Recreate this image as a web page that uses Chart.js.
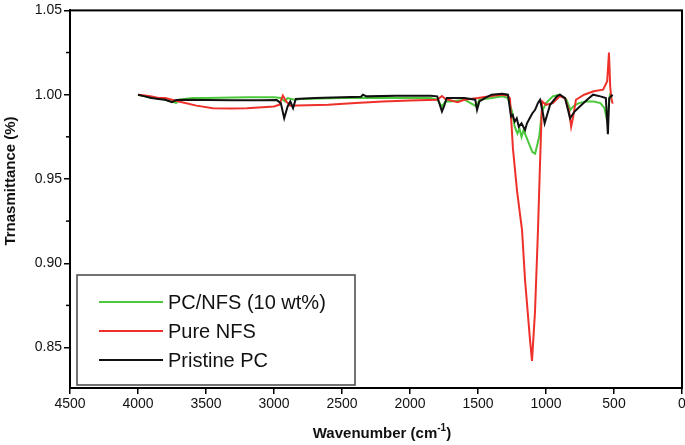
<!DOCTYPE html>
<html>
<head>
<meta charset="utf-8">
<script src="https://cdn.jsdelivr.net/npm/chart.js@4.4.1/dist/chart.umd.min.js"></script>
<style>
  html, body { margin: 0; padding: 0; background: #fff; }
  #ftir { display: block; }
</style>
</head>
<body>
<canvas id="ftir" width="685" height="445"></canvas>
<script>
// Series labels + colours
const seriesLabels = ['PC/NFS (10 wt%)', 'Pure NFS', 'Pristine PC'];
const seriesColors = ['#4cc83c', '#ee2f2a', '#111111'];

// PC/NFS (10 wt%) - green
const compWave = [4000, 3950, 3900, 3850, 3800, 3750, 3720, 3700, 3600, 3500, 3400, 3200, 3000, 2950, 2920, 2900, 2850, 2800, 2500, 2350, 2200, 2000, 1850, 1800, 1765, 1740, 1700, 1600, 1510, 1490, 1400, 1320, 1280, 1250, 1230, 1210, 1195, 1180, 1165, 1150, 1120, 1100, 1080, 1050, 1030, 1000, 950, 900, 850, 820, 800, 760, 700, 650, 600, 570, 555, 540, 530, 510];
const compT    = [1.000, 0.999, 0.998, 0.998, 0.997, 0.996, 0.995, 0.997, 0.998, 0.998, 0.9982, 0.9985, 0.9985, 0.998, 0.996, 0.998, 0.997, 0.9975, 0.998, 0.9982, 0.998, 0.998, 0.998, 0.997, 0.993, 0.996, 0.996, 0.997, 0.993, 0.997, 0.998, 0.999, 0.998, 0.990, 0.981, 0.977, 0.980, 0.975, 0.979, 0.976, 0.970, 0.966, 0.965, 0.975, 0.990, 0.995, 0.999, 1.000, 0.997, 0.991, 0.993, 0.995, 0.996, 0.996, 0.995, 0.992, 0.986, 0.992, 1.000, 0.999];

// Pure NFS - red
const nfsWave = [4000, 3950, 3900, 3850, 3800, 3750, 3700, 3570, 3450, 3320, 3200, 3000, 2960, 2935, 2910, 2880, 2830, 2600, 2400, 2200, 2000, 1800, 1765, 1740, 1650, 1600, 1500, 1400, 1330, 1280, 1265, 1243, 1213, 1176, 1154, 1118, 1103, 1081, 1059, 1044, 1029, 1000, 950, 900, 860, 830, 815, 800, 780, 720, 650, 580, 550, 537, 528, 520, 510];
const nfsT    = [1.000, 0.9995, 0.999, 0.998, 0.998, 0.997, 0.996, 0.9935, 0.992, 0.9918, 0.992, 0.993, 0.994, 0.9995, 0.996, 0.9935, 0.9936, 0.994, 0.995, 0.996, 0.9965, 0.997, 0.9992, 0.9975, 0.9955, 0.997, 0.998, 0.9992, 1.000, 0.9995, 0.9977, 0.968, 0.943, 0.9195, 0.890, 0.855, 0.842, 0.871, 0.9195, 0.959, 0.996, 0.994, 0.995, 0.999, 0.998, 0.990, 0.981, 0.987, 0.997, 1.000, 1.002, 1.003, 1.008, 1.025, 1.005, 0.998, 0.9947];

// Pristine PC - black
const pcWave = [4000, 3950, 3900, 3850, 3800, 3750, 3720, 3650, 3500, 3300, 3100, 2980, 2950, 2925, 2900, 2880, 2860, 2840, 2700, 2500, 2360, 2346, 2320, 2100, 1850, 1800, 1765, 1750, 1730, 1600, 1520, 1507, 1490, 1450, 1400, 1323, 1280, 1257, 1245, 1230, 1215, 1200, 1180, 1154, 1140, 1120, 1100, 1080, 1060, 1044, 1025, 1010, 970, 920, 897, 860, 823, 790, 765, 698, 654, 600, 560, 545, 535, 510];
const pcT    = [1.000, 0.999, 0.998, 0.9975, 0.997, 0.9955, 0.9968, 0.997, 0.9968, 0.9967, 0.9967, 0.9968, 0.995, 0.986, 0.993, 0.996, 0.992, 0.9975, 0.998, 0.9985, 0.9988, 1.000, 0.999, 0.9994, 0.9994, 0.999, 0.990, 0.993, 0.998, 0.998, 0.997, 0.991, 0.996, 0.998, 1.000, 1.0006, 1.000, 0.987, 0.988, 0.984, 0.986, 0.981, 0.983, 0.979, 0.983, 0.986, 0.989, 0.991, 0.995, 0.997, 0.990, 0.983, 0.994, 0.999, 1.000, 0.998, 0.986, 0.990, 0.992, 0.997, 1.000, 0.999, 0.998, 0.9765, 0.998, 1.000];

// axis ticks
const xTicks = [4500, 4000, 3500, 3000, 2500, 2000, 1500, 1000, 500, 0];
const yTicks = [0.85, 0.90, 0.95, 1.00, 1.05];
const yMinorTicks = [0.875, 0.925, 0.975, 1.025];

const toPoints = (w, t) => w.map((v, i) => ({ x: v, y: t[i] }));

// Frame, minor ticks, axis titles and boxed legend
const frameLegend = {
    id: 'frameLegend',
    afterDraw(chart) {
        const { ctx, chartArea: a, scales } = chart;
        ctx.save();
        // box around plot
        ctx.strokeStyle = '#000';
        ctx.lineWidth = 2;
        ctx.strokeRect(a.left, a.top, a.right - a.left, a.bottom - a.top);

        // minor y ticks
        ctx.lineWidth = 1.5;
        yMinorTicks.forEach(v => {
            const y = scales.y.getPixelForValue(v);
            ctx.beginPath();
            ctx.moveTo(a.left - 4, y);
            ctx.lineTo(a.left, y);
            ctx.stroke();
        });

        // axis titles
        ctx.fillStyle = '#111';
        ctx.font = 'bold 15px "Liberation Sans", Arial, sans-serif';
        ctx.textBaseline = 'middle';
        const xt = 'Wavenumber (cm';
        const cx = (a.left + a.right) / 2 + 6;
        const wMain = ctx.measureText(xt).width;
        const wSup = 9;
        const wEnd = ctx.measureText(')').width;
        const total = wMain + wSup + wEnd;
        let sx = cx - total / 2;
        ctx.textAlign = 'left';
        ctx.fillText(xt, sx, 434);
        ctx.font = 'bold 10px "Liberation Sans", Arial, sans-serif';
        ctx.fillText('-1', sx + wMain, 428);
        ctx.font = 'bold 15px "Liberation Sans", Arial, sans-serif';
        ctx.fillText(')', sx + wMain + wSup, 434);

        ctx.save();
        ctx.translate(11, 181);
        ctx.rotate(-Math.PI / 2);
        ctx.textAlign = 'center';
        ctx.fillText('Trnasmittance (%)', 0, 0);
        ctx.restore();

        // legend box
        const lx = 77, ly = 275, lw = 278, lh = 110;
        ctx.strokeStyle = '#444';
        ctx.lineWidth = 1.5;
        ctx.strokeRect(lx, ly, lw, lh);
        ctx.font = '20px "Liberation Sans", Arial, sans-serif';
        ctx.textAlign = 'left';
        ctx.textBaseline = 'middle';
        const rows = [302, 331, 360];
        chart.data.datasets.forEach((ds, i) => {
            ctx.strokeStyle = ds.borderColor;
            ctx.lineWidth = 2;
            ctx.beginPath();
            ctx.moveTo(99, rows[i]);
            ctx.lineTo(163, rows[i]);
            ctx.stroke();
            ctx.fillStyle = '#111';
            ctx.fillText(ds.label, 168, rows[i] + 1);
        });
        ctx.restore();
    }
};

const mkSet = (i, w, t, order) => ({
    label: seriesLabels[i],
    data: toPoints(w, t),
    borderColor: seriesColors[i],
    borderWidth: 2,
    pointRadius: 0,
    tension: 0,
    fill: false,
    order: order
});

new Chart(document.getElementById('ftir').getContext('2d'), {
    type: 'line',
    data: {
        datasets: [
            mkSet(0, compWave, compT, 2),
            mkSet(1, nfsWave, nfsT, 1),
            mkSet(2, pcWave, pcT, 0)
        ]
    },
    options: {
        responsive: false,
        animation: false,
        layout: { padding: { top: 8, right: 3, left: 0, bottom: 0 } },
        plugins: { legend: { display: false }, tooltip: { enabled: false } },
        scales: {
            x: {
                type: 'linear',
                reverse: true,
                min: 0,
                max: 4500,
                afterBuildTicks: (axis) => { axis.ticks = xTicks.map(v => ({ value: v })); },
                afterFit: (s) => { s.height = 57; s.paddingRight = 0; s.paddingLeft = 0; },
                border: { display: true, color: '#000', width: 2 },
                grid: { display: true, drawOnChartArea: false, drawTicks: true, tickLength: 6, color: '#000', lineWidth: 1.5 },
                ticks: {
                    color: '#111',
                    padding: 2,
                    maxRotation: 0,
                    font: { family: '"Liberation Sans", Arial, sans-serif', size: 14 },
                    callback: (v) => String(v)
                }
            },
            y: {
                type: 'linear',
                min: 0.826,
                max: 1.05,
                afterBuildTicks: (axis) => { axis.ticks = yTicks.map(v => ({ value: v })); },
                afterFit: (s) => { s.width = 70; },
                border: { display: true, color: '#000', width: 2 },
                grid: { display: true, drawOnChartArea: false, drawTicks: true, tickLength: 6, color: '#000', lineWidth: 1.5 },
                ticks: {
                    color: '#111',
                    padding: 2,
                    font: { family: '"Liberation Sans", Arial, sans-serif', size: 14 },
                    callback: (v) => v.toFixed(2)
                }
            }
        }
    },
    plugins: [frameLegend]
});
</script>
</body>
</html>
